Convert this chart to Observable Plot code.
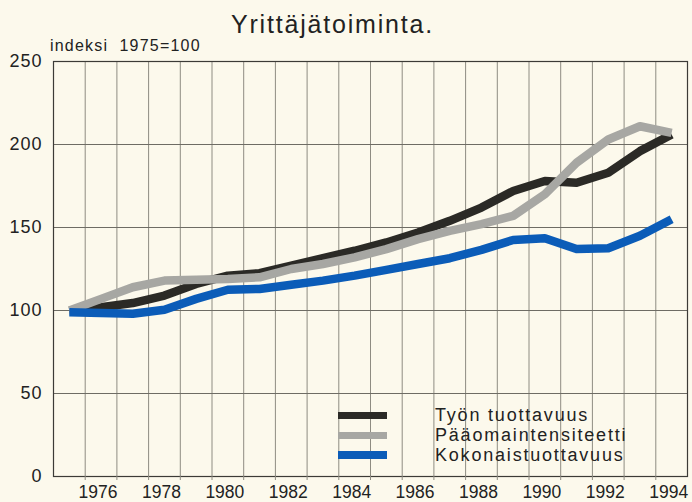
<!DOCTYPE html>
<html>
<head>
<meta charset="utf-8">
<script src="https://cdn.jsdelivr.net/npm/d3@7"></script>
<script src="https://cdn.jsdelivr.net/npm/@observablehq/plot@0.6"></script>
<style>
  html, body { margin: 0; padding: 0; background: #fcf9ec; }
  #wrap { position: relative; width: 692px; height: 502px; background: #fcf9ec; font-family: "Liberation Sans", Arial, sans-serif; color: #222; overflow: hidden; }
  #title { position: absolute; left: 231px; top: 12px; font-size: 25px; line-height: 1; letter-spacing: 1.8px; white-space: nowrap; }
  #subtitle { position: absolute; left: 50px; top: 38px; font-size: 16px; line-height: 1; letter-spacing: 1.2px; white-space: pre; }
  #chart { position: absolute; left: 0; top: 0; }
  #legend { position: absolute; left: 338px; top: 405px; }
  .row { display: flex; align-items: center; height: 20px; }
  .sw { width: 49px; height: 7px; margin-right: 48px; flex: none; }
  .lab { font-size: 18px; line-height: 20px; letter-spacing: 1.8px; white-space: nowrap; color: #222; }
  g[aria-label="y-axis tick label"] text { letter-spacing: 1px; }
</style>
</head>
<body>
<div id="wrap">
  <div id="chart"></div>
  <div id="title"></div>
  <div id="subtitle"></div>
  <div id="legend"></div>
</div>
<script>
// ---- data ----
const titleText = "Yrittäjätoiminta.";
const subtitleText = "indeksi  1975=100";
const years = [1975,1976,1977,1978,1979,1980,1981,1982,1983,1984,1985,1986,1987,1988,1989,1990,1991,1992,1993,1994];
const tyonTuottavuus   = [100,102,104.5,109,116,121,122.5,127,131.5,136,141,147,154,162,172,178,177,183,196,206];
const paaomaintensiteetti = [100,107,114,118,118.5,119,120,125,128,132,137,143,148,152,157,170,189,203,211,207];
const kokonaistuottavuus  = [99,98.5,98,100.5,107,112.5,113,115.5,118,121,124.5,128,131.5,136.5,142.5,143.5,137,137.5,145,155];
const seriesNames  = ["Työn tuottavuus", "Pääomaintensiteetti", "Kokonaistuottavuus"];
const seriesColors = ["#2b2a26", "#a7a7a3", "#0b5cb8"];
const yTicks = [0, 50, 100, 150, 200, 250];
const xTicks = [1976, 1978, 1980, 1982, 1984, 1986, 1988, 1990, 1992, 1994];

// ---- build table ----
const seriesValues = [tyonTuottavuus, paaomaintensiteetti, kokonaistuottavuus];
const rows = [];
seriesNames.forEach((name, i) => {
  years.forEach((yr, j) => rows.push({series: name, year: yr, value: seriesValues[i][j]}));
});
const gridYears = years.slice(1).map(y => y - 0.5);

const chart = Plot.plot({
  width: 692,
  height: 502,
  marginLeft: 53,
  marginRight: 5,
  marginTop: 61,
  marginBottom: 26,
  style: { background: "transparent", fontFamily: "'Liberation Sans', Arial, sans-serif", color: "#222", overflow: "visible" },
  x: { domain: [1974.5, 1994.5], label: null },
  y: { domain: [0, 250], label: null },
  color: { domain: seriesNames, range: seriesColors },
  marks: [
    Plot.gridX(gridYears, { stroke: "#8e8c82", strokeOpacity: 1, strokeWidth: 1 }),
    Plot.gridY(yTicks, { stroke: "#6e6c64", strokeOpacity: 1, strokeWidth: 1 }),
    Plot.frame({ stroke: "#3c3b37", strokeWidth: 1.2 }),
    Plot.axisX(gridYears, { tickSize: 4, text: null, stroke: "#8e8c82" }),
    Plot.axisX(xTicks, { tickSize: 0, tickPadding: 9, tickFormat: d => String(d), fontSize: 17.5, fontFamily: "'Liberation Sans Narrow', 'Liberation Sans', Arial, sans-serif", fill: "#222", dx: -3 }),
    Plot.axisY(yTicks, { tickSize: 0, tickPadding: 11, fontSize: 18, fill: "#222" }),
    Plot.line(rows, { x: "year", y: "value", z: "series", stroke: "series", strokeWidth: 8.5, curve: "linear", strokeLinecap: "butt", strokeLinejoin: "round" })
  ]
});
document.getElementById("chart").appendChild(chart);
document.getElementById("title").textContent = titleText;
document.getElementById("subtitle").textContent = subtitleText;

const legend = document.getElementById("legend");
seriesNames.forEach((name, i) => {
  const row = document.createElement("div");
  row.className = "row";
  const sw = document.createElement("div");
  sw.className = "sw";
  sw.style.background = seriesColors[i];
  if (i === 2) sw.style.height = "8px";
  const lab = document.createElement("div");
  lab.className = "lab";
  lab.textContent = name;
  row.appendChild(sw);
  row.appendChild(lab);
  legend.appendChild(row);
});
</script>
</body>
</html>
